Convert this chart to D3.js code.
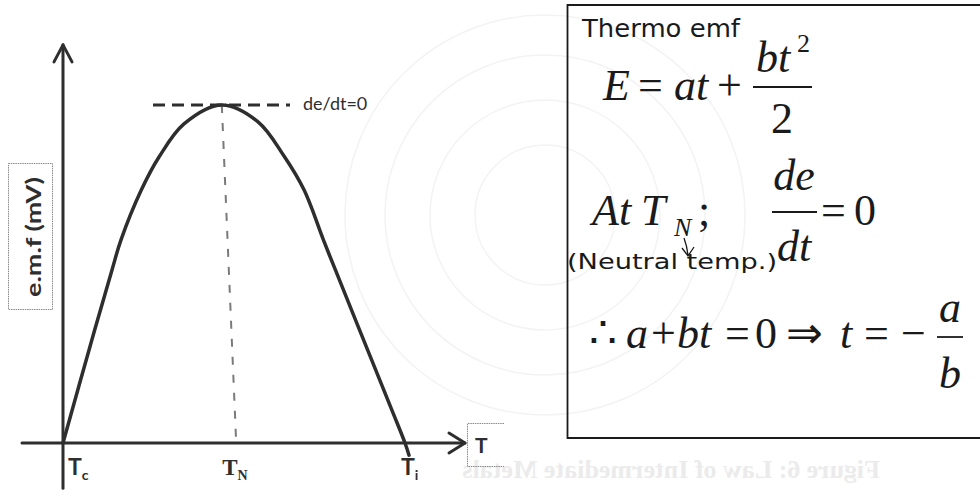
<!DOCTYPE html>
<html>
<head>
<meta charset="utf-8">
<script src="https://cdn.jsdelivr.net/npm/d3@7"></script>
<style>
  html, body { margin: 0; padding: 0; background: #ffffff; }
  svg { display: block; }
</style>
</head>
<body>
<svg id="chart" width="980" height="491"></svg>
<script>
// Thermo emf versus temperature (abstract units: T on 0..100, emf on 0..100 with the peak at 100)
const curveT   = [0, 7.0, 12.25, 14.5, 19.6, 24.0, 30.25, 39.7, 48.75, 55.25, 60.25, 65.1, 68.1, 73.85, 82.2, 85.5, 86.5];
const curveEmf = [0, 29.6, 51.2, 60.1, 74.9, 84.6, 94.4, 100, 95.0, 84.9, 74.9, 60.1, 51.2, 34.3, 9.8, 0, -3.6];

// Characteristic temperatures marked on the T axis
const tickNames = ["T", "T", "T"];
const tickSubs  = ["c", "N", "i"];
const tickT     = [0, 43.3, 85.5];
const tickFonts = ["sans", "serif", "sans"];

// Tangent at the peak (de/dt = 0) and the drop line to the neutral temperature
const tangentT   = [22.5, 56.75];
const tangentEmf = 100;
const neutralTop  = [39.7, 100];
const neutralBase = [43.3, 0];

// Visible extent of the two axes
const xAxisExtent = [-10.25, 100.5];
const yAxisExtent = [-13.4, 117.8];

const svg = d3.select("#chart");
const ink = "#2e2e2e";
const sansFont = "Lato, 'Open Sans', 'DejaVu Sans', sans-serif";
const serifFont = "'Liberation Serif', 'Times New Roman', serif";

const x = d3.scaleLinear().domain([0, 100]).range([63, 463]);
const y = d3.scaleLinear().domain([0, 100]).range([443, 105]);

// faint show-through from the reverse side of the page
const ghost = svg.append("g").attr("fill", "none").attr("stroke", "#f3f3f3").attr("stroke-width", 1.5);
[70, 115, 160, 200].forEach(r => ghost.append("circle").attr("cx", 545).attr("cy", 215).attr("r", r));
svg.append("text")
  .attr("transform", "translate(1350,0) scale(-1,1)")
  .attr("x", 470).attr("y", 478)
  .attr("font-family", serifFont).attr("font-weight", "bold").attr("font-size", 26)
  .attr("fill", "#ebebeb")
  .text("Figure 6: Law of Intermediate Metals");

// ---- axes ----
const axes = svg.append("g").attr("stroke", ink).attr("stroke-width", 3).attr("fill", "none")
  .attr("stroke-linecap", "round").attr("stroke-linejoin", "round");
axes.append("line")
  .attr("x1", x(0)).attr("x2", x(0))
  .attr("y1", y(yAxisExtent[0])).attr("y2", y(yAxisExtent[1]));
axes.append("path")
  .attr("d", `M${x(0) - 9},${y(yAxisExtent[1]) + 17} L${x(0)},${y(yAxisExtent[1])} L${x(0) + 9},${y(yAxisExtent[1]) + 17}`);
axes.append("line")
  .attr("x1", x(xAxisExtent[0])).attr("x2", x(xAxisExtent[1]))
  .attr("y1", y(0)).attr("y2", y(0));
axes.append("path")
  .attr("d", `M${x(xAxisExtent[1]) - 16},${y(0) - 10} L${x(xAxisExtent[1])},${y(0)} L${x(xAxisExtent[1]) - 16},${y(0) + 10}`);

// axis title boxes
svg.append("rect").attr("x", 8.5).attr("y", 163.5).attr("width", 44).attr("height", 146)
  .attr("fill", "none").attr("stroke", "#8a8a8a").attr("stroke-width", 1).attr("stroke-dasharray", "1.5,0.8");
svg.append("text")
  .attr("transform", "translate(41,237) rotate(-90)")
  .attr("text-anchor", "middle")
  .attr("font-family", sansFont).attr("font-weight", "bold").attr("font-size", 20)
  .attr("fill", ink)
  .attr("textLength", 120).attr("lengthAdjust", "spacingAndGlyphs")
  .text("e.m.f (mV)");

svg.append("path").attr("d", "M504,423.5 H467.5 V466.5 H504")
  .attr("fill", "none").attr("stroke", "#8a8a8a").attr("stroke-width", 1).attr("stroke-dasharray", "1.5,0.8");
svg.append("text").attr("x", 475).attr("y", 453)
  .attr("font-family", sansFont).attr("font-weight", "bold").attr("font-size", 21).attr("fill", ink)
  .text("T");

// ---- tangent and neutral drop line ----
svg.append("line")
  .attr("x1", x(tangentT[0])).attr("x2", x(tangentT[1]))
  .attr("y1", y(tangentEmf)).attr("y2", y(tangentEmf))
  .attr("stroke", ink).attr("stroke-width", 3).attr("stroke-dasharray", "12,7");
svg.append("text").attr("x", x(tangentT[1]) + 13).attr("y", y(tangentEmf) + 5)
  .attr("font-family", sansFont).attr("font-size", 18).attr("fill", ink)
  .text("de/dt=0");

svg.append("line")
  .attr("x1", x(neutralTop[0])).attr("y1", y(neutralTop[1]))
  .attr("x2", x(neutralBase[0])).attr("y2", y(neutralBase[1]))
  .attr("stroke", "#7a7a7a").attr("stroke-width", 2).attr("stroke-dasharray", "8,10");

// ---- emf curve ----
const pts = curveT.map((t, i) => [t, curveEmf[i]]);
const line = d3.line().x(d => x(d[0])).y(d => y(d[1])).curve(d3.curveCatmullRom.alpha(0.5));
svg.append("path").datum(pts)
  .attr("d", line)
  .attr("fill", "none").attr("stroke", ink).attr("stroke-width", 3.5)
  .attr("stroke-linecap", "round").attr("stroke-linejoin", "round");

// ---- temperature labels ----
const tickOffsets = [5, -14, -4];
tickT.forEach((t, i) => {
  const lbl = svg.append("text")
    .attr("x", x(t) + tickOffsets[i]).attr("y", 475)
    .attr("font-family", tickFonts[i] === "serif" ? serifFont : sansFont)
    .attr("font-weight", "bold").attr("font-size", 23).attr("fill", ink);
  lbl.append("tspan").text(tickNames[i]);
  lbl.append("tspan").attr("font-size", 14).attr("dy", 5).text(tickSubs[i]);
});

// ---- formula panel ----
svg.append("path").attr("d", "M990,5 H567.5 V438 H990")
  .attr("fill", "none").attr("stroke", "#1a1a1a").attr("stroke-width", 1.8);

const hand = "'DejaVu Sans', sans-serif";
svg.append("text").attr("x", 582).attr("y", 37)
  .attr("font-family", hand).attr("font-size", 24).attr("fill", "#1a1a1a")
  .attr("textLength", 158).attr("lengthAdjust", "spacingAndGlyphs")
  .text("Thermo emf");

const fs = 44;
function glyph(str, gx, gy, opts = {}) {
  return svg.append("text").attr("x", gx).attr("y", gy)
    .attr("font-family", serifFont)
    .attr("font-size", opts.size || fs)
    .attr("font-style", opts.italic ? "italic" : "normal")
    .attr("text-anchor", opts.anchor || "start")
    .attr("fill", "#1a1a1a")
    .text(str);
}
function bar(x1, x2, by) {
  svg.append("line").attr("x1", x1).attr("x2", x2).attr("y1", by).attr("y2", by)
    .attr("stroke", "#1a1a1a").attr("stroke-width", 1.8);
}

// E = at + bt^2 / 2
glyph("E", 603, 100, {italic: true});
glyph("=", 638, 100);
glyph("at", 674, 100, {italic: true});
glyph("+", 717, 100);
bar(753, 812, 87);
glyph("bt", 756, 72, {italic: true});
glyph("2", 797, 52, {size: 26});
glyph("2", 782, 133, {anchor: "middle"});

// At T_N ; de/dt = 0
glyph("At", 592, 225, {italic: true});
glyph("T", 641, 225, {italic: true});
glyph("N", 674, 236, {italic: true, size: 26});
glyph(";", 698, 225);
bar(772, 817, 212);
glyph("de", 794, 190, {italic: true, anchor: "middle"});
glyph("dt", 794, 261, {italic: true, anchor: "middle"});
glyph("=", 821, 225);
glyph("0", 854, 225);

// handwritten note under T_N
svg.append("text").attr("x", 567).attr("y", 269)
  .attr("font-family", hand).attr("font-size", 21).attr("fill", "#1a1a1a")
  .attr("textLength", 210).attr("lengthAdjust", "spacingAndGlyphs")
  .text("(Neutral temp.)");
svg.append("path").attr("d", "M684,238 Q687,246 688,255 M682,248 L688,256 L694,247")
  .attr("fill", "none").attr("stroke", "#1a1a1a").attr("stroke-width", 1.3);

// therefore a + bt = 0 => t = -a/b
glyph("\u2234", 589, 348);
glyph("a", 626, 348, {italic: true});
glyph("+", 651, 348);
glyph("bt", 677, 348, {italic: true});
glyph("=", 725, 348);
glyph("0", 755, 348);
glyph("\u21D2", 786, 348);
glyph("t", 840, 348, {italic: true});
glyph("=", 864, 348);
glyph("\u2212", 901, 348);
bar(937, 963, 337);
glyph("a", 950, 322, {italic: true, anchor: "middle"});
glyph("b", 950, 388, {italic: true, anchor: "middle"});
</script>
</body>
</html>
